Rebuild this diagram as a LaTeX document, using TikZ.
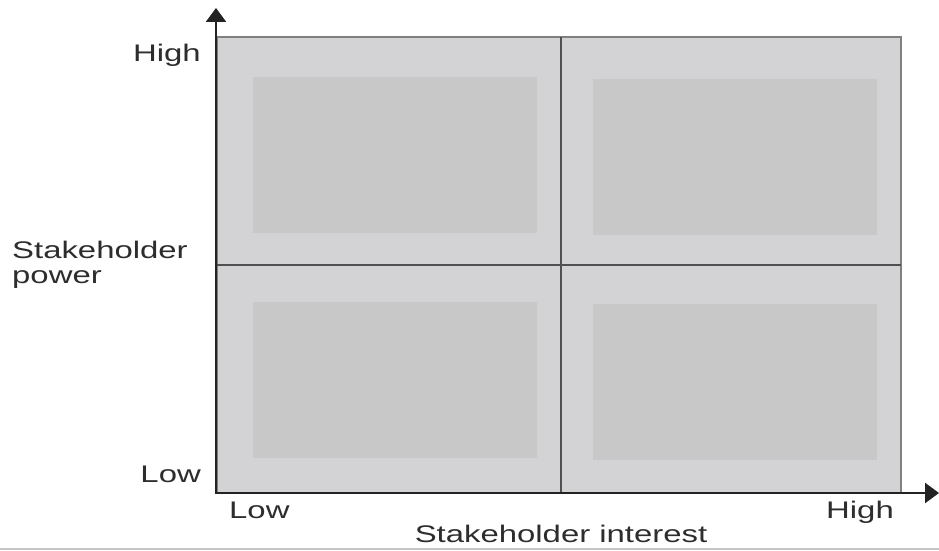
\documentclass[tikz,border=0pt]{standalone}
\usepackage{fontspec}
\setmainfont[FakeStretch=1.37]{Liberation Sans}
\usetikzlibrary{positioning}
\usetikzlibrary{arrows.meta}
\definecolor{cellgray}{RGB}{211,211,213}
\definecolor{innergray}{RGB}{200,200,200}
\definecolor{gridgray}{RGB}{80,80,80}
\definecolor{axisgray}{RGB}{35,35,35}
\definecolor{labelgray}{RGB}{45,45,45}

\begin{document}
\begin{tikzpicture}[x=1pt,y=-1pt,
  inner box/.style={fill=innergray, minimum width=284pt, minimum height=156pt,
    inner sep=0pt, anchor=north west},
  axis label/.style={font=\fontsize{24}{25}\selectfont, text=labelgray, inner sep=0pt},
  axis line/.style={axisgray, line width=2.5pt, -{Triangle[width=20pt,length=14pt]}}]
 \useasboundingbox (0,0) rectangle (939,551);
 \fill[white] (0,0) rectangle (939,551);
 \draw[gray!45, line width=1.5pt] (0,549) -- (939,549);

 % quadrants
 \draw[fill=cellgray, draw=gray, line width=1.2pt] (217,37) rectangle (901,493);
 \node[inner box] (tl) at (253,77) {};
 \node[inner box] (tr) at (593,79) {};
 \node[inner box] (bl) at (253,302) {};
 \node[inner box] (br) at (593,304) {};
 \coordinate (vtop) at (561,37);
 \coordinate (vbot) at (561,493);
 \coordinate (hleft) at (217,265);
 \coordinate (hright) at (901,265);
 \draw[gridgray, line width=1.4pt] (vtop) -- (vbot);
 \draw[gridgray, line width=1.4pt] (hleft) -- (hright);

 % axes
 \coordinate (origin) at (216,493);
 \coordinate (ytip) at (216,8);
 \coordinate (xtip) at (939,493);
 \draw[axis line] (origin) -- (ytip);
 \draw[axis line] ([xshift=-1.25pt]origin) -- (xtip);

 % labels
 \node[axis label, anchor=base east] (yhigh) at (201,62) {High};
 \node[axis label, anchor=base east] (ylow) at (201,482) {Low};
 \node[axis label, anchor=base west, align=left] (ytitle) at (12,283) {Stakeholder\\power};
 \node[axis label, anchor=base west] (xlow) at (229,518) {Low};
 \node[axis label, anchor=base east] (xhigh) at (894,518) {High};
 \node[axis label, anchor=base] (xtitle) at (561,542) {Stakeholder interest};
\end{tikzpicture}
\end{document}
